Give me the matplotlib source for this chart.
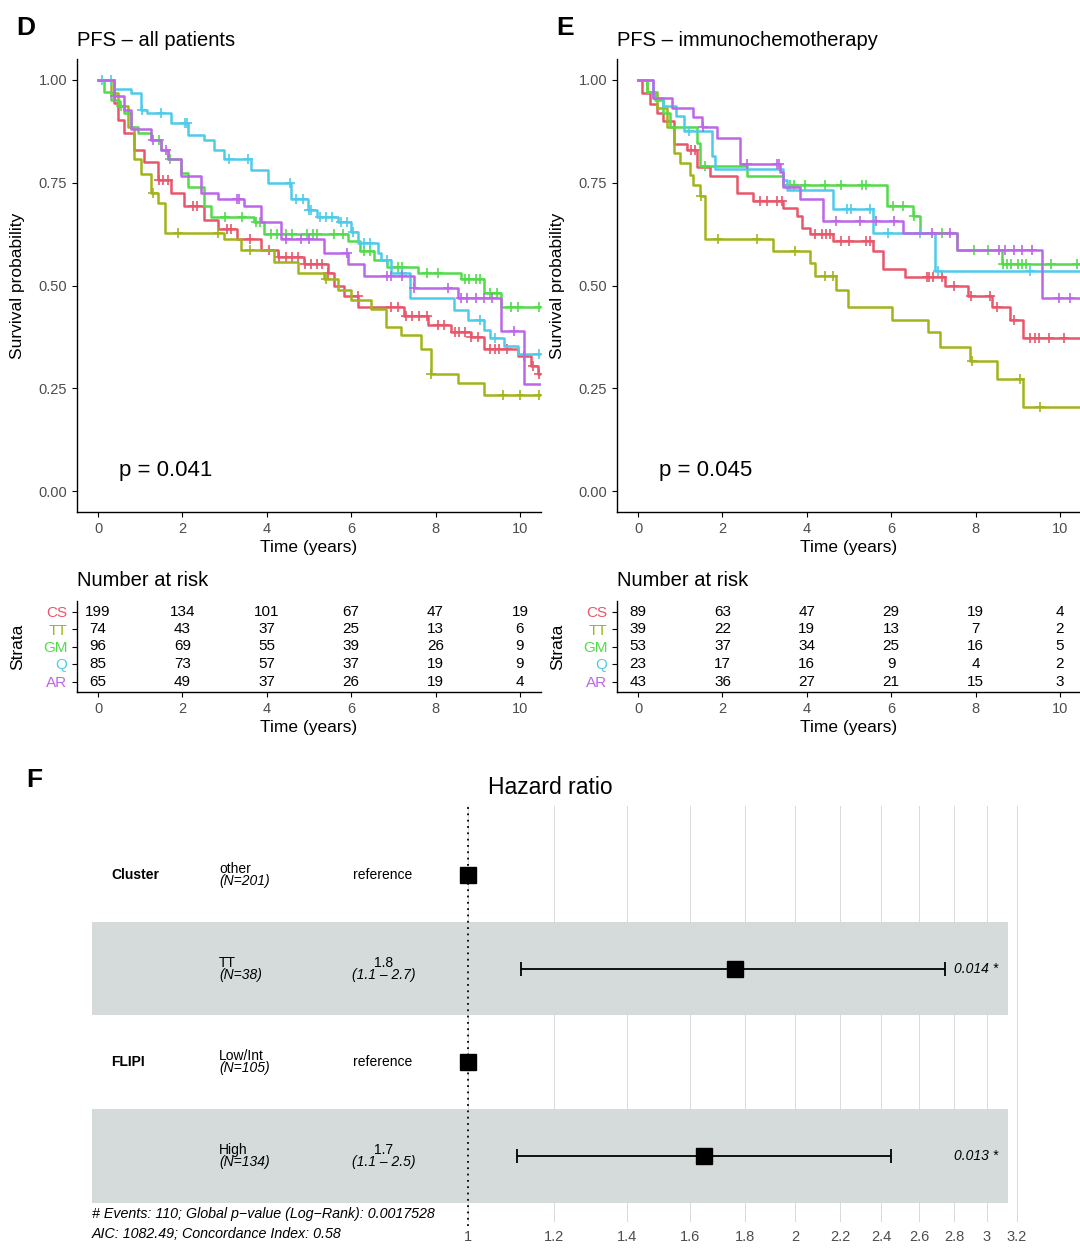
import numpy as np
import matplotlib

matplotlib.use("Agg")
import matplotlib.pyplot as plt
from matplotlib.transforms import blended_transform_factory

plt.rcParams["font.family"] = ["Liberation Sans", "DejaVu Sans"]

W, H = 1080, 1249

STRATA = ["CS", "TT", "GM", "Q", "AR"]
COLORS = ["#E8566B", "#A2B41C", "#52DB4A", "#4FCBEA", "#BC66E8"]
RISK_TIMES = [0, 2, 4, 6, 8, 10]
END_TIME = 10.5

# ---- panel D: PFS all patients (step times, survival after each step, censor times)
D_TIMES = {
    "CS": [0, 0.38, 0.47, 0.62, 0.86, 1.1, 1.42, 1.73, 2.04, 2.5, 2.84, 3.3, 3.86, 4.27, 4.88,
           5.45, 5.6, 5.83, 6.16, 7.25, 7.82, 8.36, 8.84, 9.15, 9.95, 10.26, 10.42],
    "TT": [0, 0.3, 0.47, 0.7, 0.86, 1.02, 1.26, 1.42, 1.58, 2.99, 3.39, 4.18, 4.74, 5.36, 5.69,
           6.0, 6.47, 6.82, 7.18, 7.65, 7.89, 8.53, 9.15],
    "GM": [0, 0.15, 0.3, 0.5, 0.62, 0.78, 0.94, 1.26, 1.5, 1.66, 1.97, 2.12, 2.5, 2.68, 3.7,
           3.94, 5.92, 6.2, 6.54, 6.86, 7.58, 8.6, 9.15, 9.55],
    "Q": [0, 0.38, 0.78, 1.02, 1.17, 1.73, 2.12, 2.5, 2.75, 2.99, 3.63, 4.03, 4.57, 4.97, 5.2,
          5.69, 6.0, 6.16, 6.63, 6.7, 6.94, 7.4, 8.43, 8.77, 9.15, 9.3, 9.62, 9.95],
    "AR": [0, 0.38, 0.62, 0.78, 1.26, 1.5, 1.66, 1.97, 2.44, 2.84, 3.46, 3.86, 4.34, 5.36,
           5.92, 6.3, 7.49, 8.53, 9.55, 10.1],
}
D_SURV = {
    "CS": [1, 0.944, 0.903, 0.871, 0.83, 0.8, 0.757, 0.725, 0.692, 0.66, 0.636, 0.612, 0.587,
           0.568, 0.551, 0.53, 0.498, 0.474, 0.449, 0.425, 0.405, 0.388, 0.376, 0.345, 0.328,
           0.304, 0.284],
    "TT": [1, 0.968, 0.935, 0.886, 0.806, 0.77, 0.725, 0.7, 0.628, 0.612, 0.587, 0.556, 0.53,
           0.515, 0.49, 0.466, 0.442, 0.4, 0.381, 0.345, 0.284, 0.264, 0.235],
    "GM": [1, 0.97, 0.95, 0.935, 0.92, 0.886, 0.87, 0.854, 0.83, 0.806, 0.774, 0.74, 0.692,
           0.667, 0.653, 0.624, 0.607, 0.583, 0.563, 0.546, 0.53, 0.515, 0.483, 0.447],
    "Q": [1, 0.976, 0.968, 0.927, 0.919, 0.895, 0.866, 0.854, 0.83, 0.806, 0.78, 0.75, 0.709,
          0.684, 0.667, 0.653, 0.629, 0.604, 0.58, 0.563, 0.53, 0.47, 0.44, 0.417, 0.393,
          0.373, 0.352, 0.333],
    "AR": [1, 0.96, 0.927, 0.879, 0.854, 0.83, 0.806, 0.765, 0.725, 0.709, 0.692, 0.653, 0.612,
           0.58, 0.551, 0.522, 0.495, 0.47, 0.389, 0.26],
}
D_CENSOR = {
    "CS": [1.45, 1.55, 1.65, 2.25, 2.35, 3.05, 3.15, 3.6, 4.05, 4.3, 4.45, 4.6, 4.75, 4.9, 5.05,
           5.2, 5.3, 5.45, 6.15, 6.95, 7.1, 7.3, 7.45, 7.6, 7.8, 8.05, 8.2, 8.45, 8.55, 8.7,
           8.85, 9.0, 9.3, 9.4, 9.5, 9.7, 10.1, 10.3, 10.45],
    "TT": [1.3, 1.9, 2.85, 3.6, 5.4, 7.9, 9.6, 10.0, 10.45],
    "GM": [0.55, 1.45, 1.7, 3.0, 3.4, 3.75, 3.85, 4.1, 4.25, 4.45, 4.6, 4.95, 5.1, 5.2, 5.6,
           5.8, 6.3, 6.45, 7.1, 7.2, 7.8, 8.05, 8.7, 8.8, 8.95, 9.05, 9.3, 9.45, 9.8, 9.95,
           10.45],
    "Q": [0.1, 0.3, 1.05, 1.5, 2.05, 2.1, 3.1, 3.55, 4.55, 4.7, 4.85, 5.0, 5.05, 5.25, 5.4,
          5.55, 5.75, 5.9, 6.05, 6.3, 6.45, 6.85, 7.2, 9.05, 9.4, 10.45],
    "AR": [0.4, 1.3, 1.6, 3.3, 3.35, 4.45, 4.8, 5.0, 5.9, 6.85, 6.95, 7.2, 7.5, 8.3, 8.6, 8.75,
           8.95, 9.15, 9.35, 9.85],
}
D_RISK = [
    [199, 134, 101, 67, 47, 19],
    [74, 43, 37, 25, 13, 6],
    [96, 69, 55, 39, 26, 9],
    [85, 73, 57, 37, 19, 9],
    [65, 49, 37, 26, 19, 4],
]

# ---- panel E: PFS immunochemotherapy
E_TIMES = {
    "CS": [0, 0.1, 0.28, 0.45, 0.6, 0.84, 1.16, 1.4, 1.7, 2.34, 2.73, 3.44, 3.76, 3.88, 4.07,
           4.62, 5.57, 5.8, 6.33, 7.28, 7.82, 8.39, 8.82, 9.13],
    "TT": [0, 0.2, 0.45, 0.68, 0.84, 1.0, 1.23, 1.3, 1.47, 1.59, 3.2, 4.07, 4.19, 4.7, 4.98,
           6.02, 6.87, 7.16, 7.87, 8.5, 9.13],
    "GM": [0, 0.2, 0.4, 0.6, 0.76, 1.4, 1.47, 2.58, 3.44, 5.9, 6.52, 6.68, 7.56, 8.62],
    "Q": [0, 0.36, 0.6, 0.9, 1.1, 1.75, 1.83, 3.44, 3.52, 4.62, 5.57, 7.04],
    "AR": [0, 0.36, 0.8, 1.3, 1.51, 1.87, 2.42, 3.36, 3.44, 3.84, 4.38, 6.28, 7.56, 9.57],
}
E_SURV = {
    "CS": [1, 0.968, 0.94, 0.92, 0.9, 0.843, 0.83, 0.787, 0.765, 0.725, 0.705, 0.688, 0.668,
           0.64, 0.624, 0.607, 0.583, 0.54, 0.52, 0.498, 0.474, 0.449, 0.417, 0.373],
    "TT": [1, 0.97, 0.93, 0.886, 0.822, 0.798, 0.769, 0.745, 0.717, 0.612, 0.583, 0.555, 0.522,
           0.49, 0.449, 0.417, 0.386, 0.35, 0.316, 0.272, 0.204],
    "GM": [1, 0.97, 0.95, 0.92, 0.886, 0.846, 0.789, 0.765, 0.745, 0.692, 0.668, 0.628, 0.587,
           0.551],
    "Q": [1, 0.956, 0.935, 0.911, 0.874, 0.814, 0.782, 0.757, 0.733, 0.685, 0.628, 0.535],
    "AR": [1, 0.956, 0.932, 0.908, 0.884, 0.859, 0.794, 0.776, 0.74, 0.709, 0.656, 0.628,
           0.587, 0.47],
}
E_CENSOR = {
    "CS": [1.25, 1.35, 2.9, 3.05, 3.3, 3.4, 4.2, 4.35, 4.45, 4.55, 4.8, 5.0, 5.4, 5.5, 6.85,
           6.9, 7.0, 7.2, 7.5, 7.9, 8.35, 8.5, 8.9, 9.3, 9.4, 9.5, 9.75, 10.1],
    "TT": [1.5, 1.9, 2.81, 3.72, 4.43, 4.63, 7.91, 9.05, 9.53],
    "GM": [1.58, 3.6, 3.7, 3.95, 4.43, 4.8, 5.3, 5.4, 6.05, 6.28, 6.55, 7.2, 7.97, 8.3, 8.65,
           8.75, 8.85, 9.0, 9.1, 9.2, 9.8, 10.4],
    "Q": [1.2, 4.95, 5.05, 5.5, 5.93, 6.68, 7.1, 9.28],
    "AR": [1.55, 2.58, 3.3, 3.35, 4.7, 5.25, 5.64, 6.07, 6.97, 7.4, 8.55, 8.7, 8.9, 9.1, 9.35,
           9.97, 10.25],
}
E_RISK = [
    [89, 63, 47, 29, 19, 4],
    [39, 22, 19, 13, 7, 2],
    [53, 37, 34, 25, 16, 5],
    [23, 17, 16, 9, 4, 2],
    [43, 36, 27, 21, 15, 3],
]

# ---- panel F: Cox model forest plot
FOREST_VARS = ["Cluster", "", "FLIPI", ""]
FOREST_LEVELS = ["other", "TT", "Low/Int", "High"]
FOREST_N = [201, 38, 105, 134]
FOREST_HR = [1.0, 1.76, 1.0, 1.65]
FOREST_LO = [np.nan, 1.12, np.nan, 1.11]
FOREST_HI = [np.nan, 2.75, np.nan, 2.45]
FOREST_EST = ["reference", "1.8", "reference", "1.7"]
FOREST_CI = ["", "(1.1 – 2.7)", "", "(1.1 – 2.5)"]
FOREST_P = ["", "0.014 *", "", "0.013 *"]
HR_TICKS = [1, 1.2, 1.4, 1.6, 1.8, 2, 2.2, 2.4, 2.6, 2.8, 3, 3.2]
HR_TICKLABELS = ["1", "1.2", "1.4", "1.6", "1.8", "2", "2.2", "2.4", "2.6", "2.8", "3", "3.2"]

TICK_GREY = "#4d4d4d"


def px_axes(fig, left, top, right, bottom):
    return fig.add_axes([left / W, 1 - bottom / H, (right - left) / W, (bottom - top) / H])


def classic_axes(ax):
    for side in ("top", "right"):
        ax.spines[side].set_visible(False)
    for side in ("left", "bottom"):
        ax.spines[side].set_linewidth(1.0)
    ax.tick_params(direction="out", length=3.5, width=0.8, colors="black",
                   labelcolor=TICK_GREY, labelsize=10.5)
    ax.set_xlim(-0.5, 10.5)
    ax.set_xticks(RISK_TIMES)
    ax.set_xticklabels([str(t) for t in RISK_TIMES])


def draw_km(ax, times, surv, censor, pval):
    classic_axes(ax)
    for name, color in zip(STRATA, COLORS):
        t = np.array(times[name] + [END_TIME])
        s = np.array(surv[name] + [surv[name][-1]])
        ax.step(t, s, where="post", color=color, lw=1.8)
        ct = np.array(censor[name])
        idx = np.searchsorted(np.array(times[name]), ct, side="right") - 1
        ax.plot(ct, np.array(surv[name])[idx], ls="none", marker="+", ms=7.5, mew=1.2,
                color=color)
    ax.set_ylim(-0.05, 1.05)
    ax.set_yticks([0, 0.25, 0.5, 0.75, 1.0])
    ax.set_yticklabels(["0.00", "0.25", "0.50", "0.75", "1.00"])
    ax.set_xlabel("Time (years)", fontsize=12.5, labelpad=3)
    ax.set_ylabel("Survival probability", fontsize=12.5)
    ax.yaxis.set_label_coords(-0.112, 0.5)
    ax.text(0.5, 0.05, pval, fontsize=16, ha="left", va="center")


def draw_risk(ax, risk):
    classic_axes(ax)
    for row, counts in enumerate(risk):
        for t, n in zip(RISK_TIMES, counts):
            ax.text(t, row + 1, str(n), ha="center", va="center", fontsize=11)
    ax.set_ylim(5.6, 0.4)
    ax.set_yticks(range(1, len(STRATA) + 1))
    ax.set_yticklabels(STRATA, fontsize=11)
    for lab, color in zip(ax.get_yticklabels(), COLORS):
        lab.set_color(color)
    ax.set_xlabel("Time (years)", fontsize=12.5, labelpad=3)
    ax.set_ylabel("Strata", fontsize=12.5)
    ax.yaxis.set_label_coords(-0.112, 0.5)


fig = plt.figure(figsize=(W / 100, H / 100), dpi=100)

# Kaplan-Meier panels
ax_d = px_axes(fig, 77, 59, 541, 512)
draw_km(ax_d, D_TIMES, D_SURV, D_CENSOR, "p = 0.041")
ax_e = px_axes(fig, 617, 59, 1081, 512)
draw_km(ax_e, E_TIMES, E_SURV, E_CENSOR, "p = 0.045")

# risk tables
ax_dr = px_axes(fig, 77, 601, 541, 692)
draw_risk(ax_dr, D_RISK)
ax_er = px_axes(fig, 617, 601, 1081, 692)
draw_risk(ax_er, E_RISK)

for x, title in [(77, "PFS – all patients"), (617, "PFS – immunochemotherapy")]:
    fig.text(x / W, 1 - 40 / H, title, fontsize=14.5, ha="left", va="center")
for x in (77, 617):
    fig.text(x / W, 1 - 580 / H, "Number at risk", fontsize=14.5, ha="left", va="center")
for x, y, letter in [(16, 28, "D"), (556, 28, "E"), (26, 780, "F")]:
    fig.text(x / W, 1 - y / H, letter, fontsize=19, fontweight="bold", ha="left", va="center")

# forest plot
ax_f = px_axes(fig, 0, 806, 1080, 1222)
ax_f.set_xscale("log")
ax_f.set_xlim(np.exp(-468 / 472), np.exp(612 / 472))
n_rows = len(FOREST_LEVELS)
rows = np.arange(n_rows, 0, -1)
row_px = 93.7
ax_f.set_ylim(1 - (1222 - 1156) / row_px, n_rows + (875 - 806) / row_px)
for r in rows[1::2]:
    ax_f.axhspan(r - 0.5, r + 0.5, xmin=92 / W, xmax=1008 / W, color="#d5dada", lw=0, zorder=0)
ax_f.set_xticks(HR_TICKS)
ax_f.set_xticklabels(HR_TICKLABELS)
ax_f.xaxis.set_minor_locator(matplotlib.ticker.NullLocator())
ax_f.tick_params(axis="x", length=0, pad=6, labelsize=10.5, labelcolor=TICK_GREY)
ax_f.set_yticks([])
for sp in ax_f.spines.values():
    sp.set_visible(False)
ax_f.grid(axis="x", color="#d9d9d9", lw=0.7, zorder=0.5)
ax_f.axvline(1, ymin=-0.01, ymax=1, color="black", ls=(0, (1, 2.5)), lw=1.3, clip_on=False,
             zorder=2)

hr = np.array(FOREST_HR)
lo = np.array(FOREST_LO)
hi = np.array(FOREST_HI)
has_ci = ~np.isnan(lo)
ax_f.errorbar(hr[has_ci], rows[has_ci], xerr=[hr[has_ci] - lo[has_ci], hi[has_ci] - hr[has_ci]],
              fmt="none", ecolor="black", elinewidth=1.3, capsize=5, capthick=1.3, zorder=3)
ax_f.plot(hr, rows, ls="none", marker="s", ms=11.5, color="black", zorder=4)

tr = blended_transform_factory(ax_f.transAxes, ax_f.transData)
for r, var, lev, n, est, ci, p in zip(rows, FOREST_VARS, FOREST_LEVELS, FOREST_N, FOREST_EST,
                                      FOREST_CI, FOREST_P):
    ax_f.text(111 / W, r, var, transform=tr, fontsize=10, fontweight="bold", ha="left",
              va="center")
    ax_f.annotate(lev, (219 / W, r), xycoords=tr, xytext=(0, 4.3), textcoords="offset points",
                  fontsize=10, ha="left", va="center")
    ax_f.annotate(f"(N={n})", (219 / W, r), xycoords=tr, xytext=(0, -4.3),
                  textcoords="offset points", fontsize=10, style="italic", ha="left", va="center")
    if ci:
        ax_f.annotate(est, (384 / W, r), xycoords=tr, xytext=(0, 4.3),
                      textcoords="offset points", fontsize=10, ha="center", va="center")
        ax_f.annotate(ci, (384 / W, r), xycoords=tr, xytext=(0, -4.3),
                      textcoords="offset points", fontsize=10, style="italic", ha="center",
                      va="center")
    else:
        ax_f.text(383 / W, r, est, transform=tr, fontsize=10, ha="center", va="center")
    if p:
        ax_f.text(976 / W, r, p, transform=tr, fontsize=10, style="italic", ha="center",
                  va="center")

fig.text(550 / W, 1 - 787 / H, "Hazard ratio", fontsize=16.5, ha="center", va="center")
fig.text(92 / W, 1 - 1214 / H, "# Events: 110; Global p−value (Log−Rank): 0.0017528",
         fontsize=10.3, style="italic", ha="left", va="center")
fig.text(92 / W, 1 - 1234 / H, "AIC: 1082.49; Concordance Index: 0.58",
         fontsize=10.3, style="italic", ha="left", va="center")

fig.savefig("out.png", dpi=100)
plt.close(fig)
